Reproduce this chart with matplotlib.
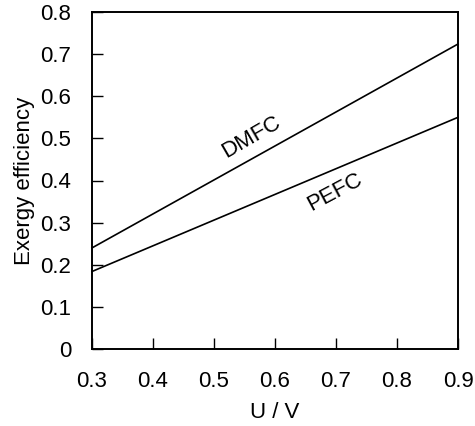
import matplotlib
matplotlib.use("Agg")
import matplotlib.pyplot as plt
import numpy as np

plt.rcParams["font.family"] = ["Liberation Sans", "DejaVu Sans"]

voltage = [0.3, 0.9]
dmfc = [0.24, 0.724]
pefc = [0.184, 0.55]

fig = plt.figure(figsize=(4.75, 4.26), dpi=100)
ax = fig.add_axes([92 / 475, 1 - 349 / 426, 366 / 475, 337 / 426])

ax.plot(voltage, dmfc, color="black", lw=1.2, clip_on=False)
ax.plot(voltage, pefc, color="black", lw=1.2, clip_on=False)

ax.set_xlim(0.3, 0.9)
ax.set_ylim(0, 0.8)
ax.set_xticks(np.arange(0.3, 0.91, 0.1))
ax.set_xticklabels(["0.3", "0.4", "0.5", "0.6", "0.7", "0.8", "0.9"])
ax.set_yticks(np.arange(0, 0.81, 0.1))
ax.set_yticklabels(["0", "0.1", "0.2", "0.3", "0.4", "0.5", "0.6", "0.7", "0.8"])
ax.tick_params(direction="in", length=8, width=1, labelsize=16)
ax.tick_params(axis="y", pad=15)
ax.tick_params(axis="x", pad=16)
for s in ax.spines.values():
    s.set_linewidth(1.4)

ax.set_xlabel("U / V", fontsize=16, labelpad=7)
ax.set_ylabel("Exergy efficiency", fontsize=16, labelpad=4)

ax.text(0.561, 0.503, "DMFC", fontsize=16, rotation=30, ha="center", va="center")
ax.text(0.698, 0.372, "PEFC", fontsize=16, rotation=28, ha="center", va="center")

fig.savefig("out.png", dpi=100)
